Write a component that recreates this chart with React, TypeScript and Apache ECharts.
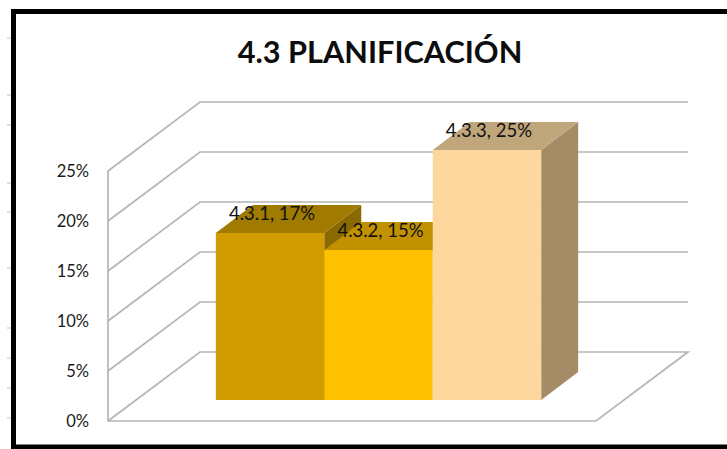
import React, { useEffect, useRef } from "react";
import * as echarts from "echarts";

const titleText = "4.3 PLANIFICACIÓN";
const categories = [""];
const seriesNames = ["4.3.1", "4.3.2", "4.3.3"];
const seriesValues = [16.7, 15, 25];
const yTicks = [0, 5, 10, 15, 20, 25];
const frontColors = ["#d29c00", "#ffc000", "#fdd79d"];
const topColors = ["#a17b00", "#c19100", "#c0a67b"];
const sideColors = ["#8a6900", "#a67d00", "#a58c67"];
const marginMarks = [38, 95, 125, 183, 212, 268, 328, 358, 388, 418];

const FONT = "Lato, Carlito, Calibri, sans-serif";
const WALL_DX = 92;
const WALL_DY = -69;
const BAR_SHIFT_X = 28;
const BAR_SHIFT_Y = -21;
const BAR_DX = 37;
const BAR_DY = -28;
const GRID_COLOR = "#b5b5b5";

export default function App() {
  const ref = useRef<HTMLDivElement>(null);

  useEffect(() => {
    document.body.style.margin = "0";
    document.body.style.background = "#ffffff";
    const chart = echarts.init(ref.current!, undefined, { renderer: "svg" });

    const wallSeries = {
      type: "custom",
      silent: true,
      z: 1,
      clip: false,
      data: yTicks.map((t) => [0, t]),
      encode: { x: 0, y: 1 },
      renderItem: (_p: any, api: any) => {
        const [cx, y] = api.coord([0, api.value(1)]);
        const w = api.size([1, 0])[0];
        const x0 = cx - w / 2;
        return {
          type: "polyline",
          shape: {
            points: [
              [x0, y],
              [x0 + WALL_DX, y + WALL_DY],
              [x0 + WALL_DX + w, y + WALL_DY],
              ...(api.value(1) === 0
                ? [
                    [x0 + w, y],
                    [x0, y],
                  ]
                : []),
            ],
          },
          style: { stroke: GRID_COLOR, lineWidth: 1.7, fill: "none" },
        };
      },
    };

    const barSeries = seriesNames.map((name, i) => ({
      type: "custom",
      name,
      silent: true,
      clip: false,
      z: 2 + i,
      data: [[0, seriesValues[i]]],
      encode: { x: 0, y: 1 },
      renderItem: (_p: any, api: any) => {
        const [cx, top0] = api.coord([0, api.value(1)]);
        const [, base0] = api.coord([0, 0]);
        const w = (api.size([1, 0])[0] * (2 / 3)) / seriesNames.length;
        const x = cx - w * 1.5 + i * w + BAR_SHIFT_X - 1.5;
        const top = top0 + BAR_SHIFT_Y;
        const base = base0 + BAR_SHIFT_Y;
        const poly = (points: number[][], fill: string) => ({
          type: "polygon",
          shape: { points },
          style: { fill, stroke: "none" },
        });
        return {
          type: "group",
          children: [
            poly(
              [
                [x + w, top],
                [x + w + BAR_DX, top + BAR_DY],
                [x + w + BAR_DX, base + BAR_DY],
                [x + w, base],
              ],
              sideColors[i]
            ),
            poly(
              [
                [x, top],
                [x + BAR_DX, top + BAR_DY],
                [x + w + BAR_DX, top + BAR_DY],
                [x + w, top],
              ],
              topColors[i]
            ),
            poly(
              [
                [x, top],
                [x + w, top],
                [x + w, base],
                [x, base],
              ],
              frontColors[i]
            ),
            {
              type: "text",
              x: x + w / 2 + 2,
              y: top - 20,
              style: {
                text: `${name}, ${Math.round(api.value(1))}%`,
                font: `18.5px ${FONT}`,
                fill: "#111111",
                align: "center",
                verticalAlign: "middle",
              },
            },
          ],
        };
      },
    }));

    chart.setOption({
      animation: false,
      backgroundColor: "#ffffff",
      title: {
        text: titleText,
        left: 375,
        top: 46,
        textAlign: "center",
        textVerticalAlign: "middle",
        textStyle: { fontFamily: FONT, fontSize: 30.7, fontWeight: "bold", color: "#0d0d0d" },
      },
      grid: { left: 108, top: 171, width: 488, height: 250, containLabel: false },
      xAxis: {
        type: "category",
        data: categories,
        axisLine: { show: false },
        axisTick: { show: false },
        axisLabel: { show: false },
      },
      yAxis: {
        type: "value",
        min: 0,
        max: 25,
        interval: 5,
        axisLine: { show: true, lineStyle: { color: GRID_COLOR, width: 1.7 } },
        axisTick: { show: false },
        splitLine: { show: false },
        axisLabel: {
          formatter: "{value}%",
          fontFamily: FONT,
          fontSize: 16.5,
          color: "#1a1a1a",
          margin: 19,
        },
      },
      series: [wallSeries, ...barSeries],
      graphic: [
        {
          type: "rect",
          z: 10,
          silent: true,
          shape: { x: 13.5, y: 11.5, width: 760, height: 435.5 },
          style: { fill: "none", stroke: "#000000", lineWidth: 5 },
        },
        ...marginMarks.map((y) => ({
          type: "line",
          z: 10,
          silent: true,
          shape: { x1: 7, y1: y, x2: 11, y2: y },
          style: { stroke: "#d8d8d8", lineWidth: 1.5 },
        })),
      ],
    });

    return () => chart.dispose();
  }, []);

  return <div ref={ref} style={{ width: 727, height: 449 }} />;
}
